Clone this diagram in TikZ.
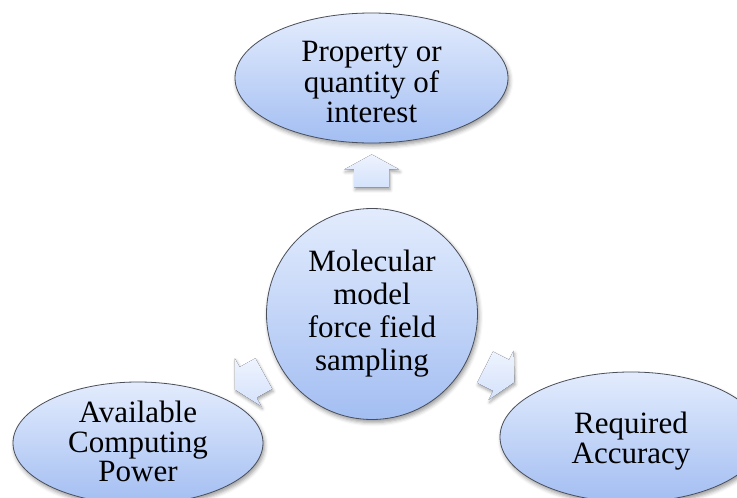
\documentclass[tikz,border=0pt]{standalone}
\usepackage{fontspec}
\setmainfont{Liberation Serif}
\usetikzlibrary{calc,shapes.geometric,shadows.blur}

\definecolor{bubbletop}{HTML}{E3ECFD}
\definecolor{bubblebottom}{HTML}{A3BEF2}
\definecolor{bubbleline}{HTML}{4A4F5A}
\definecolor{arrowtop}{HTML}{EEF3FE}
\definecolor{arrowbottom}{HTML}{D4E2FB}

\tikzset{
  bubble/.style={
    draw=bubbleline, line width=0.8pt,
    top color=bubbletop, bottom color=bubblebottom,
    blur shadow={shadow xshift=1.5pt, shadow yshift=-3pt,
                 shadow blur radius=4pt, shadow opacity=40},
    inner sep=0pt
  },
  oval/.style={bubble, ellipse},
  hub/.style={bubble, circle, minimum size=211pt},
  words/.style={font=\fontsize{31}{#1}\selectfont, align=center, inner sep=0pt},
  flow/.style={
    draw=none, top color=arrowtop, bottom color=arrowbottom,
    blur shadow={shadow xshift=1pt, shadow yshift=-2.5pt,
                 shadow blur radius=3pt, shadow opacity=35}
  }
}

% block arrow centred at #1, pointing in direction #2
\newcommand\flowarrow[2]{%
  \fill[flow]
    ($(#1)+(#2:16.5)$)
    -- ($(#1)+(#2:1.5)+(#2+90:27.5)$)
    -- ($(#1)+(#2:1.5)+(#2+90:17.5)$)
    -- ($(#1)+(#2:-16.5)+(#2+90:17.5)$)
    -- ($(#1)+(#2:-16.5)+(#2-90:17.5)$)
    -- ($(#1)+(#2:1.5)+(#2-90:17.5)$)
    -- ($(#1)+(#2:1.5)+(#2-90:27.5)$)
    -- cycle;}

\begin{document}
\begin{tikzpicture}[x=1pt,y=-1pt]
  \useasboundingbox (0,0) rectangle (737,498);
  \clip (0,0) rectangle (737,498);

  % the four bubbles
  \node[hub, label={[words=33]center:Molecular\\model\\force field\\sampling}]
    (core) at (372,314) {};
  \node[oval, minimum width=273pt, minimum height=130pt,
        label={[words=31, yshift=-4pt]center:Property or\\quantity of\\interest}]
    (top) at (371.5,78) {};
  \node[oval, minimum width=250pt, minimum height=122pt,
        label={[words=29.5, yshift=1.5pt]center:Available\\Computing\\Power}]
    (left) at (138,443) {};
  \node[oval, minimum width=262pt, minimum height=130pt,
        label={[words=30, yshift=-4pt]center:Required\\Accuracy}]
    (right) at (631,437) {};

  % block arrows from the hub out to each goal
  \path (core) -- (top)   coordinate[pos=0.574] (a1);
  \path (core) -- (left)  coordinate[pos=0.515] (a2);
  \path (core) -- (right) coordinate[pos=0.47]  (a3);
  \flowarrow{a1}{-90}
  \flowarrow{a2}{151}
  \flowarrow{a3}{27}
\end{tikzpicture}
\end{document}
